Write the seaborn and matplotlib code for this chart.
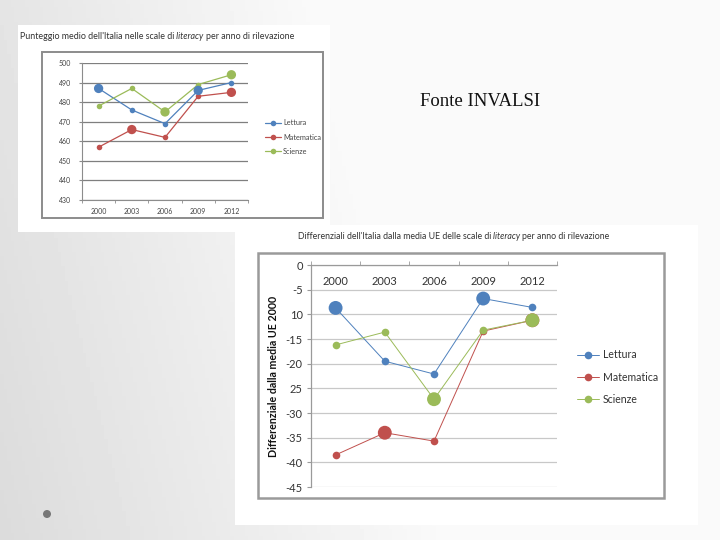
import numpy as np
import pandas as pd
import seaborn as sns
import matplotlib
matplotlib.use('Agg')
from matplotlib import pyplot as plt
from matplotlib.patches import Rectangle, Ellipse
from matplotlib.ticker import FixedLocator

anni = ['2000', '2003', '2006', '2009', '2012']
materie = ['Lettura', 'Matematica', 'Scienze']

# punteggio medio dell'Italia
punteggio_lettura = [487, 476, 469, 486, 490]
punteggio_matematica = [457, 466, 462, 483, 485]
punteggio_scienze = [478, 487, 475, 489, 494]

# differenziale dalla media UE
diff_lettura = [-8.7, -19.5, -22.1, -6.8, -8.6]
diff_matematica = [-38.5, -34.0, -35.7, -13.4, -11.2]
diff_scienze = [-16.2, -13.6, -27.2, -13.2, -11.2]

# punti evidenziati (marker grande) nei due grafici
evid_sopra = [('Lettura', '2000'), ('Matematica', '2003'), ('Scienze', '2006'),
              ('Lettura', '2009'), ('Matematica', '2012'), ('Scienze', '2012')]
evid_sotto = [('Lettura', '2000'), ('Matematica', '2003'), ('Scienze', '2006'),
              ('Lettura', '2009'), ('Matematica', '2012'), ('Scienze', '2012')]

tick_sotto = [0, -5, -10, -15, -20, -25, -30, -35, -40, -45]
etichette_sotto = ['0', '-5', '10', '-15', '-20', '25', '-30', '-35', '-40', '-45']
tick_sopra = [430, 440, 450, 460, 470, 480, 490, 500]


def lungo(a, b, c):
    rows = []
    for m, vals in zip(materie, [a, b, c]):
        for anno, v in zip(anni, vals):
            rows.append({'Anno': anno, 'Materia': m, 'Valore': v})
    return pd.DataFrame(rows)


df_sopra = lungo(punteggio_lettura, punteggio_matematica, punteggio_scienze)
df_sotto = lungo(diff_lettura, diff_matematica, diff_scienze)

sns.set_style('white')
plt.rcParams['font.family'] = ['Lato', 'DejaVu Sans']
palette = dict(zip(materie, ['#4f81bd', '#c0504d', '#9bbb59']))

W, H = 720, 540
fig = plt.figure(figsize=(7.2, 5.4), dpi=100)


def fx(x):
    return x / W


def fy(y):
    return 1 - y / H


# sfondo della slide
bg = fig.add_axes([0, 0, 1, 1], zorder=-10)
gx = np.linspace(0, 1, 200)
gy = np.linspace(0, 1, 150)
GX, GY = np.meshgrid(gx, gy)
grad = 0.86 + 0.12 * np.clip(GX * 1.6 + (1 - GY) * 0.3, 0, 1)
bg.imshow(grad, cmap='gray', vmin=0, vmax=1, extent=[0, 1, 0, 1], aspect='auto')
bg.set_xlim(0, 1)
bg.set_ylim(0, 1)
bg.set_axis_off()

# pannelli bianchi
bg.add_patch(Rectangle((fx(18), fy(232)), fx(312), 207 / H,
                       facecolor='white', edgecolor='none', zorder=2))
bg.add_patch(Rectangle((fx(42), fy(218)), fx(281), 166 / H,
                       facecolor='white', edgecolor='#8c8c8c', lw=1.4, zorder=3))
bg.add_patch(Rectangle((fx(235), fy(525)), fx(463), 300 / H,
                       facecolor='white', edgecolor='none', zorder=2))
bg.add_patch(Rectangle((fx(258), fy(498)), fx(406), 245 / H,
                       facecolor='white', edgecolor='#9a9a9a', lw=1.8, zorder=3))
bg.add_patch(Ellipse((fx(47), fy(514)), 8 / W, 8 / H,
                     facecolor='#777777', edgecolor='none', zorder=3))


def titolo_misto(x, y, prima, corsivo, dopo, size):
    t1 = fig.text(x, y, prima, fontsize=size, color='#333333', va='baseline', ha='left')
    t2 = fig.text(0, 0, ' ' + corsivo + ' ', fontsize=size, color='#333333', style='italic')
    t3 = fig.text(0, 0, dopo, fontsize=size, color='#333333')
    fig.canvas.draw()
    r = fig.canvas.get_renderer()
    b1 = t1.get_window_extent(r)
    t2.set_position((b1.x1 / fig.bbox.width, y))
    b2 = t2.get_window_extent(r)
    t3.set_position((b2.x1 / fig.bbox.width, y))
    return t1, t2, t3


# ---------- grafico in alto ----------
ax1 = fig.add_axes([fx(82), fy(200), fx(166), 137 / H])
ax1.patch.set_alpha(0)
sns.lineplot(data=df_sopra, x='Anno', y='Valore', hue='Materia', palette=palette,
             marker='o', markersize=4, markeredgewidth=0, linewidth=0.9, ax=ax1)
big1 = df_sopra[[(m, a) in evid_sopra for m, a in zip(df_sopra.Materia, df_sopra.Anno)]]
sns.scatterplot(data=big1, x='Anno', y='Valore', hue='Materia', palette=palette,
                s=45, linewidth=0, legend=False, ax=ax1, zorder=5)
ax1.set_ylim(430, 500)
ax1.set_xlim(-0.5, 4.5)
ax1.set_yticks(tick_sopra)
ax1.set_yticklabels([str(t) for t in tick_sopra])
ax1.yaxis.grid(True, color='#7f7f7f', lw=0.9)
ax1.set_axisbelow(True)
ax1.set_xlabel('')
ax1.set_ylabel('')
for s in ['top', 'right']:
    ax1.spines[s].set_visible(False)
for s in ['left', 'bottom']:
    ax1.spines[s].set_color('#8c8c8c')
    ax1.spines[s].set_linewidth(0.8)
ax1.tick_params(axis='both', labelsize=5, colors='#444444', length=0, pad=6)
ax1.xaxis.set_minor_locator(FixedLocator([-0.5, 0.5, 1.5, 2.5, 3.5, 4.5]))
ax1.tick_params(axis='x', which='minor', bottom=True, length=2, color='#8c8c8c')
ax1.tick_params(axis='y', which='major', left=True, length=2, color='#8c8c8c')
h1, l1 = ax1.get_legend_handles_labels()
ax1.get_legend().remove()
fig.legend(h1, l1, loc='center left', bbox_to_anchor=(fx(258), fy(137)),
           bbox_transform=fig.transFigure, frameon=False, fontsize=5.3,
           handlelength=2.2, labelspacing=1.0, handletextpad=0.3, labelcolor='#444444')

titolo_misto(fx(20), fy(39), "Punteggio medio dell'Italia nelle scale di", 'literacy',
             'per anno di rilevazione', 6.4)

# ---------- grafico in basso ----------
ax2 = fig.add_axes([fx(311), fy(487), fx(246), 222 / H])
ax2.patch.set_alpha(0)
sns.lineplot(data=df_sotto, x='Anno', y='Valore', hue='Materia', palette=palette,
             marker='o', markersize=5.5, markeredgewidth=0, linewidth=0.7, ax=ax2)
big2 = df_sotto[[(m, a) in evid_sotto for m, a in zip(df_sotto.Materia, df_sotto.Anno)]]
sns.scatterplot(data=big2, x='Anno', y='Valore', hue='Materia', palette=palette,
                s=100, linewidth=0, legend=False, ax=ax2, zorder=5)
ax2.set_ylim(-45, 0)
ax2.set_xlim(-0.5, 4.5)
ax2.set_yticks(tick_sotto)
ax2.set_yticklabels(etichette_sotto)
ax2.yaxis.grid(True, color='#c8c8c8', lw=0.9)
ax2.set_axisbelow(True)
ax2.set_xlabel('')
ax2.set_ylabel('Differenziale dalla media UE 2000', fontsize=7.7, fontweight='bold',
               color='#111111', labelpad=5)
for s in ['bottom', 'right']:
    ax2.spines[s].set_visible(False)
for s in ['left', 'top']:
    ax2.spines[s].set_color('#9a9a9a')
    ax2.spines[s].set_linewidth(0.9)
ax2.xaxis.tick_top()
ax2.tick_params(axis='x', which='major', top=True, labeltop=True, bottom=False,
                labelbottom=False, length=0, pad=-16, labelsize=8, colors='#333333')
ax2.xaxis.set_minor_locator(FixedLocator([-0.5, 0.5, 1.5, 2.5, 3.5, 4.5]))
ax2.tick_params(axis='x', which='minor', top=True, bottom=False, length=3, color='#9a9a9a')
ax2.tick_params(axis='y', labelsize=8, colors='#333333', left=True, length=3,
                color='#9a9a9a', pad=3)
h2, l2 = ax2.get_legend_handles_labels()
ax2.get_legend().remove()
fig.legend(h2, l2, loc='center left', bbox_to_anchor=(fx(567), fy(377)),
           bbox_transform=fig.transFigure, frameon=False, fontsize=7.6,
           handlelength=2.1, labelspacing=1.05, handletextpad=0.4, labelcolor='#333333')

titolo_misto(fx(298), fy(239), "Differenziali dell'Italia dalla media UE delle scale di",
             'literacy', 'per anno di rilevazione', 6.3)

fig.text(fx(420), fy(101), 'Fonte INVALSI', fontsize=13.5, family='Liberation Serif',
         color='#111111', va='center', ha='left')

fig.savefig('out.png', dpi=100)
